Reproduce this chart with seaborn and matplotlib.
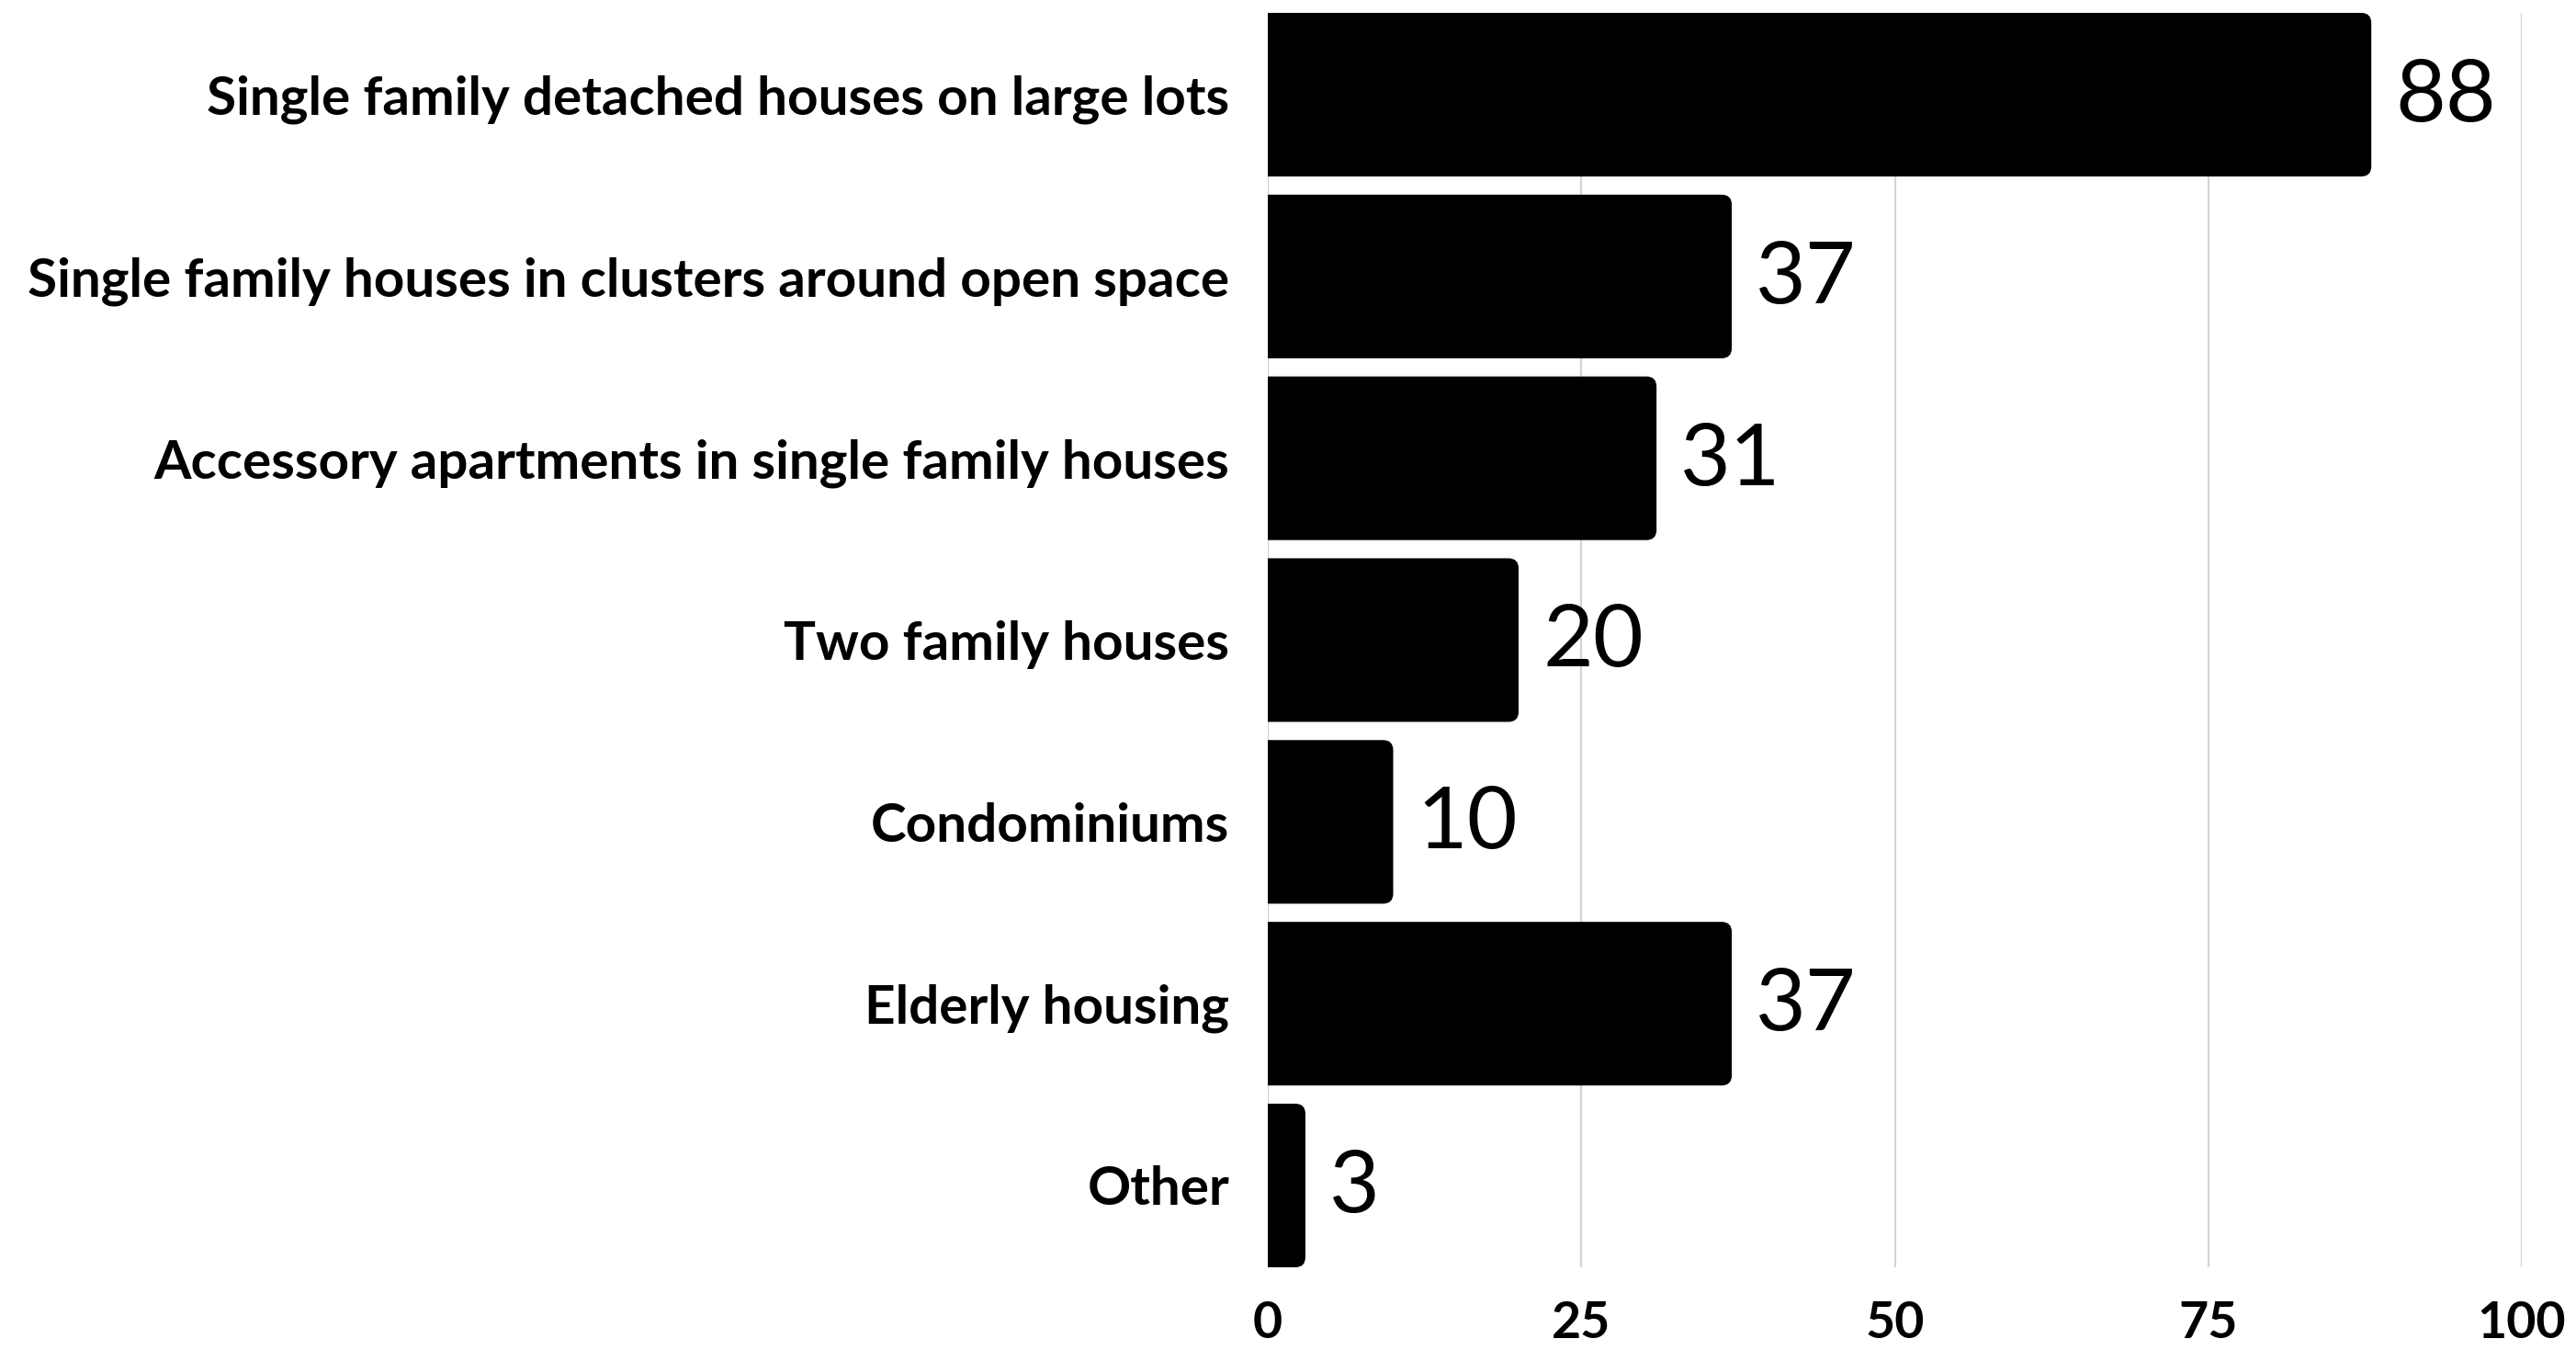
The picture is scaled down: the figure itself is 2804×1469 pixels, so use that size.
import matplotlib
matplotlib.use("Agg")
import matplotlib.pyplot as plt
from matplotlib.patches import FancyBboxPatch
import seaborn as sns
import pandas as pd

categories = [
    "Single family detached houses on large lots",
    "Single family houses in clusters around open space",
    "Accessory apartments in single family houses",
    "Two family houses",
    "Condominiums",
    "Elderly housing",
    "Other",
]
values = [88, 37, 31, 20, 10, 37, 3]
x_ticks = [0, 25, 50, 75, 100]

df = pd.DataFrame({"category": categories, "value": values})

sns.set_theme(style="white")
plt.rcParams["font.family"] = ["Lato", "DejaVu Sans"]

W, H, DPI = 2804, 1469, 100
fig = plt.figure(figsize=(W / DPI, H / DPI), dpi=DPI)
ax = fig.add_axes([1380 / W, 1 - 1379 / H, (2745 - 1380) / W, (1379 - 14) / H])

sns.barplot(data=df, y="category", x="value", color="black", width=0.9,
            orient="h", ax=ax, saturation=1)

ax.set_xlim(0, 100)
ax.set_ylim(len(categories) - 0.55, -0.45)

# replace square bars with bars rounded on the value end
ax_w_px = 2745 - 1380
ax_h_px = 1379 - 14
x_per_px = 100 / ax_w_px
y_per_px = (len(categories) - 0.1) / ax_h_px
radius_px = 11
for p in list(ax.patches):
    x0, y0 = p.get_x(), p.get_y()
    w, h = p.get_width(), p.get_height()
    r = radius_px * x_per_px
    box = FancyBboxPatch((x0 - 2 * r, y0), w + 2 * r, h,
                         boxstyle=f"round,pad=0,rounding_size={r}",
                         mutation_aspect=y_per_px / x_per_px,
                         facecolor="black", edgecolor="none", zorder=3)
    p.remove()
    ax.add_patch(box)
    ax.text(x0 + w + 26 * x_per_px, y0 + h / 2 + 3 * y_per_px, f"{int(w)}",
            va="center", ha="left", fontsize=68, fontweight="normal",
            color="black", zorder=4)

ax.set_xticks(x_ticks)
ax.set_xticklabels([str(t) for t in x_ticks], fontsize=40, fontweight="bold")
ax.tick_params(axis="x", length=0, pad=26, colors="black")
ax.tick_params(axis="y", length=0, pad=30, colors="black")
for lab in ax.get_yticklabels():
    lab.set_fontsize(42)
    lab.set_fontweight("bold")
    lab.set_color("black")

ax.xaxis.grid(True, color="#d4d4d4", linewidth=1.6)
ax.yaxis.grid(False)
ax.set_axisbelow(True)
for s in ax.spines.values():
    s.set_visible(False)
ax.axvline(0, color="#d4d4d4", linewidth=1.6, zorder=1)
ax.set_xlabel("")
ax.set_ylabel("")

fig.savefig("out.png", dpi=DPI, facecolor="white")
